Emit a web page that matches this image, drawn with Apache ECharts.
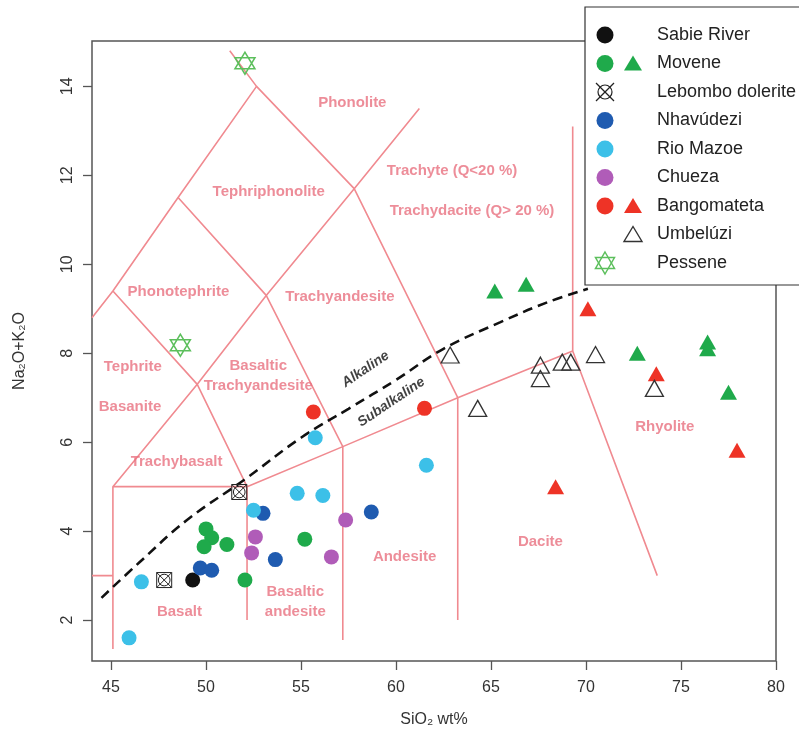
<!DOCTYPE html>
<html>
<head>
<meta charset="utf-8">
<script src="https://cdn.jsdelivr.net/npm/echarts@6/dist/echarts.min.js"></script>
<style>
html, body { margin: 0; padding: 0; background: #fff; }
#chart { width: 799px; height: 748px; }
</style>
</head>
<body>
<div id="chart"></div>
<script>
// ticks
var xTicks = [45, 50, 55, 60, 65, 70, 75, 80];
var yTicks = [2, 4, 6, 8, 10, 12, 14];

// samples, [SiO2, Na2O+K2O]
var sabieRiver = [[49.3, 2.9]];
var moveneCircles = [[50.0, 4.05], [50.3, 3.85], [49.9, 3.65], [51.1, 3.7], [55.2, 3.82], [52.05, 2.9]];
var moveneTriangles = [[65.2, 9.4], [66.85, 9.55], [72.7, 8.0], [76.4, 8.25], [76.4, 8.1], [77.5, 7.12]];
var lebombo = [[47.8, 2.9], [51.75, 4.88]];
var nhavudezi = [[49.7, 3.17], [50.3, 3.12], [53.0, 4.4], [53.65, 3.36], [58.7, 4.43]];
var rioMazoe = [[46.6, 2.86], [45.95, 1.6], [55.75, 6.1], [54.8, 4.85], [56.15, 4.8], [52.5, 4.47], [61.6, 5.48]];
var chueza = [[52.6, 3.87], [52.4, 3.51], [57.35, 4.25], [56.6, 3.42]];
var bangoCircles = [[55.65, 6.68], [61.5, 6.76]];
var bangoTriangles = [[70.1, 9.0], [68.4, 5.0], [73.7, 7.54], [77.95, 5.82]];
var umbeluzi = [[62.85, 7.96], [64.3, 6.76], [67.6, 7.73], [67.6, 7.43], [68.75, 7.8], [69.2, 7.8], [70.5, 7.97], [73.6, 7.21]];
var pessene = [[52.05, 14.52], [48.65, 8.18]];

// TAS field boundaries as drawn in the figure
var tasLines = [
    [[44, 3], [45.1, 3]],
    [[45.1, 1.35], [45.1, 5], [52.16, 5]],
    [[52.16, 2], [52.16, 5], [57.2, 5.9], [63.25, 7], [69.3, 8.05], [73.75, 3.0]],
    [[57.2, 1.55], [57.2, 5.9]],
    [[63.25, 2], [63.25, 7]],
    [[44, 8.8], [45.1, 9.4], [48.53, 11.5], [52.66, 14]],
    [[45.1, 5], [49.54, 7.3], [53.17, 9.3], [57.8, 11.7], [61.23, 13.5]],
    [[52.16, 5], [49.54, 7.3], [45.1, 9.4]],
    [[57.2, 5.9], [53.17, 9.3], [48.53, 11.5]],
    [[63.25, 7], [57.8, 11.7], [52.66, 14], [51.25, 14.8]],
    [[69.3, 8.05], [69.3, 13.1]]
];

// alkaline / subalkaline divide
var alkalineCurve = [[44.5, 2.5], [46.5, 3.3], [49, 4.25], [52, 5.15], [55, 6.1], [57.5, 6.75],
    [60, 7.4], [62.5, 8.1], [65.5, 8.7], [68, 9.15], [70.1, 9.45]];

// field names
var fieldNames = ['Phonolite', 'Tephriphonolite', 'Trachyte (Q<20 %)', 'Trachydacite (Q> 20 %)', 'Phonotephrite',
    'Trachyandesite', 'Tephrite', 'Basaltic\nTrachyandesite', 'Basanite', 'Trachybasalt', 'Basalt',
    'Basaltic\nandesite', 'Andesite', 'Dacite', 'Rhyolite'];
var fieldAt = [[57.7, 13.62], [53.3, 11.62], [62.95, 12.11], [64.0, 11.21], [48.55, 9.37],
    [57.05, 9.26], [46.15, 7.69], [52.75, 7.5], [46.0, 6.79], [48.45, 5.55], [48.6, 2.18],
    [54.7, 2.4], [60.45, 3.42], [67.6, 3.75], [74.15, 6.34]];
var seriesNames = ['Alkaline', 'Subalkaline'];
var seriesAt = [[58.4, 7.64], [59.75, 6.9]];

var legendNames = ['Sabie River', 'Movene', 'Lebombo dolerite', 'Nhavúdezi', 'Rio Mazoe', 'Chueza', 'Bangomateta', 'Umbelúzi', 'Pessene'];

var FONT = '"Liberation Sans", Arial, sans-serif';
var lineColor = '#f08a90';
var fieldColor = '#e8707f';
var cBlack = '#111', cGreen = '#1faa4b', cBlue = '#1f5bb0', cCyan = '#3cc0e8',
    cPurple = '#b05cb8', cRed = '#ee3326', cStar = '#5cbf5c';

var crossPath = 'path://M1,1L19,19M19,1L1,19M1,1L19,1L19,19L1,19Z M17,10A7,7 0 1 1 3,10A7,7 0 1 1 17,10Z';
var starPath = 'path://M10,0L18.66,15L1.34,15Z M10,20L1.34,5L18.66,5Z';

var chart = echarts.init(document.getElementById('chart'));

function pts(name, data, symbol, size, fill, stroke, bw) {
    return {
        name: name,
        type: 'scatter',
        data: data,
        symbol: symbol,
        symbolSize: size,
        itemStyle: { color: fill, borderColor: stroke || fill, borderWidth: bw || 0, opacity: 1 },
        z: 5,
        animation: false
    };
}

var series = [];
tasLines.forEach(function (l) {
    series.push({
        type: 'line', data: l, symbol: 'none', silent: true, z: 1, animation: false,
        lineStyle: { color: lineColor, width: 1.6 }
    });
});
series.push({
    type: 'line', data: alkalineCurve, symbol: 'none', smooth: 0.4, silent: true, z: 2, animation: false,
    lineStyle: { color: '#111', width: 2.6, type: [10, 6] }
});

var labelData = fieldNames.map(function (n, i) {
    return { name: n, value: fieldAt[i] };
});
series.push({
    type: 'scatter', data: labelData, symbolSize: 0, silent: true, z: 3, animation: false,
    label: {
        show: true, position: 'inside', formatter: '{b}', color: fieldColor,
        fontFamily: FONT, fontWeight: 'bold', fontSize: 15, lineHeight: 20
    }
});
series.push({
    type: 'scatter', symbolSize: 0, silent: true, z: 3, animation: false,
    data: seriesNames.map(function (n, i) { return { name: n, value: seriesAt[i] }; }),
    label: {
        show: true, position: 'inside', formatter: '{b}', color: '#111', rotate: 34,
        fontFamily: FONT, fontWeight: 'bold', fontStyle: 'italic', fontSize: 14
    }
});

series.push(pts('Sabie River', sabieRiver, 'circle', 15, cBlack));
series.push(pts('Movene', moveneCircles, 'circle', 15, cGreen));
series.push(pts('Movene', moveneTriangles, 'triangle', [17, 15], cGreen));
series.push(pts('Lebombo dolerite', lebombo, crossPath, 15, 'rgba(0,0,0,0)', '#222', 1));
series.push(pts('Nhavúdezi', nhavudezi, 'circle', 15, cBlue));
series.push(pts('Rio Mazoe', rioMazoe, 'circle', 15, cCyan));
series.push(pts('Chueza', chueza, 'circle', 15, cPurple));
series.push(pts('Bangomateta', bangoCircles, 'circle', 15, cRed));
series.push(pts('Bangomateta', bangoTriangles, 'triangle', [17, 15], cRed));
series.push(pts('Umbelúzi', umbeluzi, 'triangle', [18, 16], 'rgba(255,255,255,0)', '#333', 1.3));
series.push(pts('Pessene', pessene, starPath, [20, 22], 'rgba(0,0,0,0)', cStar, 1.5));

// legend box drawn by hand (two symbol columns)
var legendEls = [{
    type: 'rect', shape: { x: 585, y: 7, width: 230, height: 278 },
    style: { fill: '#fff', stroke: '#333', lineWidth: 1.2 }, z: 100
}];
function rowY(i) { return 35 + i * 28.5; }
function circ(x, y, c) {
    return { type: 'circle', shape: { cx: x, cy: y, r: 8.5 }, style: { fill: c }, z: 101 };
}
function tri(x, y, fill, stroke) {
    return {
        type: 'polygon', shape: { points: [[x, y - 8], [x + 9, y + 7], [x - 9, y + 7]] },
        style: { fill: fill, stroke: stroke || null, lineWidth: 1.4 }, z: 101
    };
}
function seg(x1, y1, x2, y2, c) {
    return { type: 'line', shape: { x1: x1, y1: y1, x2: x2, y2: y2 }, style: { stroke: c, lineWidth: 1.2 }, z: 101 };
}
var cx1 = 605, cx2 = 633;
legendEls.push(circ(cx1, rowY(0), cBlack));
legendEls.push(circ(cx1, rowY(1), cGreen), tri(cx2, rowY(1), cGreen));
legendEls.push(
    { type: 'circle', shape: { cx: cx1, cy: rowY(2), r: 7 }, style: { fill: 'none', stroke: '#222', lineWidth: 1.2 }, z: 101 },
    seg(cx1 - 9, rowY(2) - 9, cx1 + 9, rowY(2) + 9, '#222'),
    seg(cx1 + 9, rowY(2) - 9, cx1 - 9, rowY(2) + 9, '#222')
);
legendEls.push(circ(cx1, rowY(3), cBlue));
legendEls.push(circ(cx1, rowY(4), cCyan));
legendEls.push(circ(cx1, rowY(5), cPurple));
legendEls.push(circ(cx1, rowY(6), cRed), tri(cx2, rowY(6), cRed));
legendEls.push(tri(cx2, rowY(7), '#fff', '#333'));
legendEls.push(
    {
        type: 'polygon', shape: { points: [[cx1, rowY(8) - 11], [cx1 + 9.5, rowY(8) + 5.5], [cx1 - 9.5, rowY(8) + 5.5]] },
        style: { fill: 'none', stroke: cStar, lineWidth: 1.5 }, z: 101
    },
    {
        type: 'polygon', shape: { points: [[cx1, rowY(8) + 11], [cx1 + 9.5, rowY(8) - 5.5], [cx1 - 9.5, rowY(8) - 5.5]] },
        style: { fill: 'none', stroke: cStar, lineWidth: 1.5 }, z: 101
    }
);
legendNames.forEach(function (n, i) {
    legendEls.push({
        type: 'text', x: 657, y: rowY(i), z: 101,
        style: { text: n, fill: '#222', font: '18px ' + FONT, verticalAlign: 'middle', align: 'left' }
    });
});

var axisLbl = { color: '#333', fontSize: 16, fontFamily: FONT };

var option = {
    animation: false,
    backgroundColor: '#fff',
    grid: { left: 92, right: 23, top: 41, bottom: 87, show: true, borderColor: '#555', borderWidth: 1.5 },
    xAxis: {
        type: 'value', min: 44, max: 80,
        axisLine: { show: false },
        axisTick: { show: true, length: 9, customValues: xTicks, lineStyle: { color: '#555', width: 1.3 } },
        axisLabel: Object.assign({ customValues: xTicks, margin: 19 }, axisLbl),
        splitLine: { show: false },
        name: 'SiO₂ wt%', nameLocation: 'middle', nameGap: 51,
        nameTextStyle: { color: '#333', fontSize: 16, fontFamily: FONT }
    },
    yAxis: {
        type: 'value', min: 1.08, max: 15.02,
        axisLine: { show: false },
        axisTick: { show: true, length: 9, customValues: yTicks, lineStyle: { color: '#555', width: 1.3 } },
        axisLabel: Object.assign({ customValues: yTicks, margin: 16, rotate: 90 }, axisLbl),
        splitLine: { show: false },
        name: 'Na₂O+K₂O', nameLocation: 'middle', nameGap: 64,
        nameTextStyle: { color: '#333', fontSize: 16, fontFamily: FONT }
    },
    graphic: legendEls,
    series: series
};
chart.setOption(option);
</script>
</body>
</html>
